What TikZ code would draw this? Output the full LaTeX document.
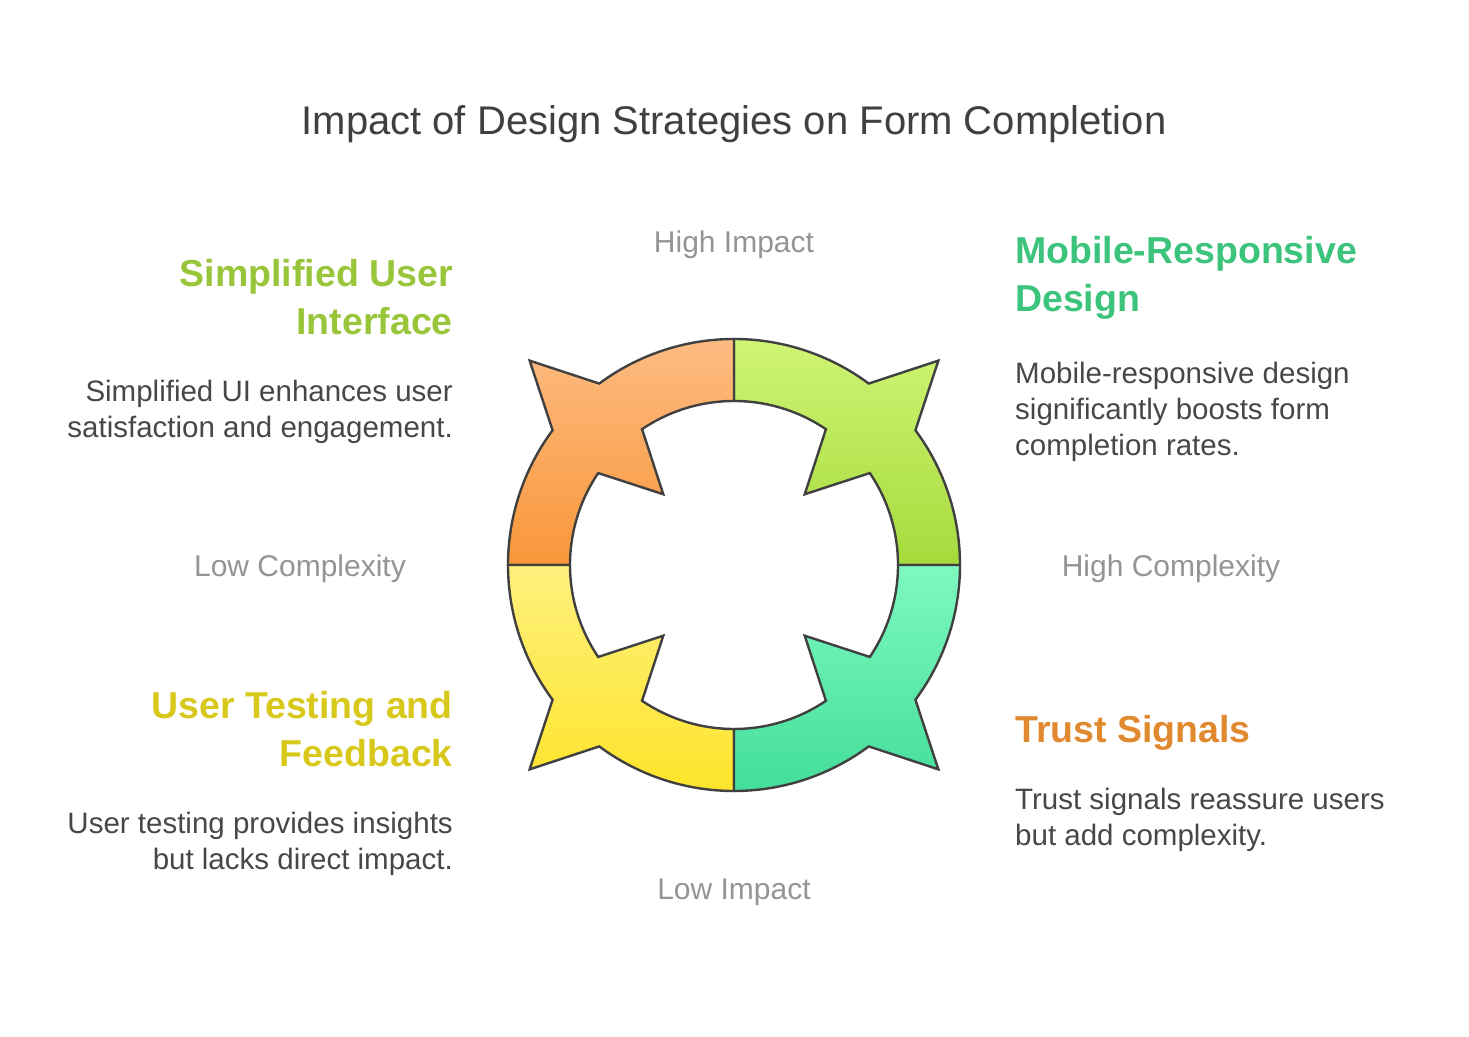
\documentclass[tikz,border=0pt]{standalone}
\usepackage{fontspec}
\setmainfont{Liberation Sans}
\begin{document}
\begin{tikzpicture}[x=1pt,y=1pt,
  seg/.style={draw=black!75,line width=2.4pt,line join=miter},
  head/.style={font=\fontsize{37.5}{48}\selectfont\bfseries,inner sep=0pt},
  body/.style={font=\fontsize{29.5}{36}\selectfont,text=black!72,inner sep=0pt},
  axis/.style={font=\fontsize{30}{34}\selectfont,text=black!42,inner sep=0pt}]
\useasboundingbox (0,0) rectangle (1469,1036);
\definecolor{hTL}{HTML}{98C53A}\definecolor{hTR}{HTML}{3CC47C}
\definecolor{hBR}{HTML}{E0892E}\definecolor{hBL}{HTML}{D9C81C}
\definecolor{gA}{HTML}{CFF574}\definecolor{gB}{HTML}{A5DA3C}
\definecolor{oA}{HTML}{FDBB82}\definecolor{oB}{HTML}{F9973A}
\definecolor{yA}{HTML}{FFF07E}\definecolor{yB}{HTML}{FDE42A}
\definecolor{tA}{HTML}{7EF9C0}\definecolor{tB}{HTML}{43DE99}
\newcommand{\piece}[3]{%
  \path[seg,top color=#2,bottom color=#3]
   (#1-45:226) arc[start angle=#1-45,end angle=#1-8.4,radius=226]
   -- (#1:289) -- (#1+8.4:226) arc[start angle=#1+8.4,end angle=#1+45,radius=226]
   -- (#1+45:164) arc[start angle=#1+45,end angle=#1+10.9,radius=164]
   -- (#1:100) -- (#1-10.9:164) arc[start angle=#1-10.9,end angle=#1-45,radius=164]
   -- cycle;}
\begin{scope}[shift={(734,471)}]
\piece{45}{gA}{gB}
\piece{135}{oA}{oB}
\piece{225}{yA}{yB}
\piece{315}{tA}{tB}
\end{scope}
\node[font=\fontsize{40}{46}\selectfont,text=black!75,inner sep=0pt] (title) at (734,912) {Impact of Design Strategies on Form Completion};
\node[axis] (hi) at (734,791) {High Impact};
\node[axis] (lo) at (734,144) {Low Impact};
\node[axis] (lc) at (300,467) {Low Complexity};
\node[axis] (hc) at (1171,467) {High Complexity};
\node[head,text=hTL,anchor=north east,align=right] (h1) at (453,777) {Simplified User\\Interface};
\node[body,anchor=north east,align=right] (b1) at (453,656) {Simplified UI enhances user\\satisfaction and engagement.};
\node[head,text=hTR,anchor=north west,align=left] (h2) at (1015,800) {Mobile-Responsive\\Design};
\node[body,anchor=north west,align=left] (b2) at (1015,674) {Mobile-responsive design\\significantly boosts form\\completion rates.};
\node[head,text=hBL,anchor=north east,align=right] (h3) at (453,345) {User Testing and\\Feedback};
\node[body,anchor=north east,align=right] (b3) at (453,224) {User testing provides insights\\but lacks direct impact.};
\node[head,text=hBR,anchor=north west,align=left] (h4) at (1015,321) {Trust Signals};
\node[body,anchor=north west,align=left] (b4) at (1015,248) {Trust signals reassure users\\but add complexity.};
\end{tikzpicture}
\end{document}
